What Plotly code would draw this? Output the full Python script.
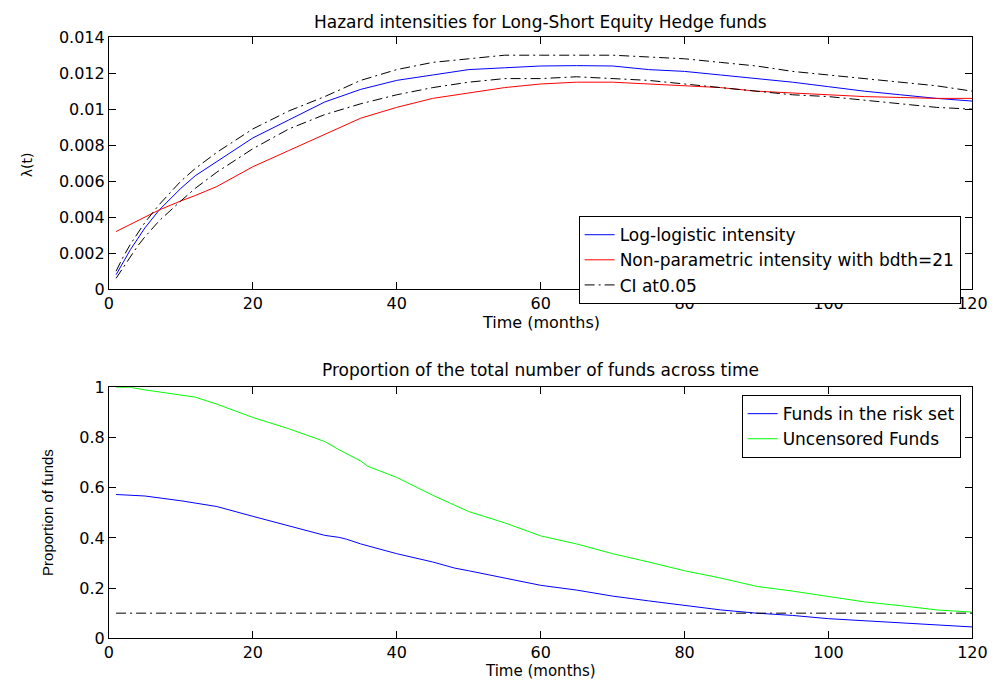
import plotly.graph_objects as go

# ---- data ----
months_top = [1, 2, 3, 4, 5, 7, 10, 12, 15, 20, 25, 30, 35, 40, 45, 50, 55, 60,
              65, 70, 75, 80, 85, 90, 95, 100, 105, 110, 115, 120]
loglogistic = [0.0008, 0.0015, 0.0022, 0.0028, 0.0034, 0.0044, 0.0056, 0.0063, 0.0071,
               0.0084, 0.0094, 0.0104, 0.0111, 0.0116, 0.0119, 0.0122, 0.0123, 0.0124,
               0.01242, 0.0124, 0.0122, 0.0121, 0.0119, 0.0117, 0.0115, 0.01125, 0.0110,
               0.0108, 0.0106, 0.01045]
nonparam = [0.0032, 0.0034, 0.0036, 0.0038, 0.0040, 0.0044, 0.0049, 0.0052, 0.0057,
            0.0068, 0.0077, 0.0086, 0.0095, 0.0101, 0.0106, 0.0109, 0.0112, 0.0114,
            0.0115, 0.0115, 0.0114, 0.0113, 0.0112, 0.0110, 0.0109, 0.0108, 0.0107,
            0.01065, 0.0106, 0.0106]
ci_upper = [0.0010, 0.0018, 0.0025, 0.0031, 0.0037, 0.0047, 0.0060, 0.0067, 0.0076,
            0.0089, 0.0099, 0.0107, 0.0116, 0.0122, 0.0126, 0.0128, 0.0130, 0.0130,
            0.0130, 0.0130, 0.0129, 0.0128, 0.0126, 0.0124, 0.0121, 0.0119, 0.0117,
            0.0115, 0.0113, 0.0110]
ci_lower = [0.0006, 0.0012, 0.0018, 0.0024, 0.0029, 0.0038, 0.0049, 0.0056, 0.0065,
            0.0078, 0.0089, 0.0097, 0.0103, 0.0108, 0.0112, 0.0115, 0.0117, 0.0117,
            0.0118, 0.0117, 0.0116, 0.0114, 0.0112, 0.0110, 0.0108, 0.0107, 0.0105,
            0.0103, 0.0101, 0.0100]

months_bot = [1, 3, 5, 10, 12, 15, 20, 25, 30, 32, 33, 35, 36, 40, 45, 48, 50, 55, 60,
              65, 70, 75, 80, 85, 90, 95, 100, 105, 110, 115, 120]
uncensored = [1.0, 1.0, 0.99, 0.971, 0.961, 0.933, 0.88, 0.835, 0.784, 0.751, 0.736,
              0.706, 0.685, 0.641, 0.57, 0.531, 0.505, 0.46, 0.408, 0.376, 0.337, 0.304,
              0.269, 0.24, 0.207, 0.188, 0.168, 0.145, 0.13, 0.113, 0.104]
risk_set = [0.573, 0.57, 0.567, 0.548, 0.54, 0.525, 0.486, 0.447, 0.41, 0.402, 0.395,
            0.376, 0.368, 0.337, 0.304, 0.28, 0.269, 0.24, 0.211, 0.192, 0.168, 0.149,
            0.13, 0.113, 0.1, 0.091, 0.078, 0.07, 0.061, 0.054, 0.045]
threshold_x = [1, 120]
threshold_y = [0.1, 0.1]

FONT = "DejaVu Sans"
DASHDOT = "10px,4px,2px,4px"

fig = go.Figure()
fig.add_trace(go.Scatter(x=months_top, y=loglogistic, mode="lines", name="Log-logistic intensity",
                         line=dict(color="#0000ff", width=1), xaxis="x", yaxis="y", legend="legend"))
fig.add_trace(go.Scatter(x=months_top, y=nonparam, mode="lines",
                         name="Non-parametric intensity with bdth=21",
                         line=dict(color="#ff0000", width=1), xaxis="x", yaxis="y", legend="legend"))
fig.add_trace(go.Scatter(x=months_top, y=ci_upper, mode="lines", name="CI at0.05",
                         line=dict(color="black", width=1, dash=DASHDOT), xaxis="x", yaxis="y",
                         legend="legend"))
fig.add_trace(go.Scatter(x=months_top, y=ci_lower, mode="lines", name="CI at0.05", showlegend=False,
                         line=dict(color="black", width=1, dash=DASHDOT), xaxis="x", yaxis="y"))

fig.add_trace(go.Scatter(x=months_bot, y=risk_set, mode="lines", name="Funds in the risk set",
                         line=dict(color="#0000ff", width=1), xaxis="x2", yaxis="y2", legend="legend2"))
fig.add_trace(go.Scatter(x=months_bot, y=uncensored, mode="lines", name="Uncensored Funds",
                         line=dict(color="#00ff00", width=1), xaxis="x2", yaxis="y2", legend="legend2"))
fig.add_trace(go.Scatter(x=threshold_x, y=threshold_y, mode="lines", showlegend=False,
                         line=dict(color="black", width=1, dash=DASHDOT), xaxis="x2", yaxis="y2"))

W, H = 1007, 693
xdom = [106 / W, 987 / W]
ax = dict(showline=True, linecolor="black", linewidth=1, mirror="ticks", ticks="inside",
          ticklen=7, tickcolor="black", showgrid=False, zeroline=False,
          tickfont=dict(family=FONT, size=16, color="black"))

ytop = [i * 0.002 for i in range(8)]
fig.update_layout(
    width=W, height=H, margin=dict(l=0, r=0, t=0, b=0),
    paper_bgcolor="white", plot_bgcolor="white",
    font=dict(family=FONT, color="black"),
    xaxis=dict(ax, domain=xdom, range=[0, 120], tickvals=list(range(0, 121, 20)), anchor="y"),
    yaxis=dict(ax, domain=[1 - 288 / H, 1 - 29 / H], range=[0, 0.014], tickvals=ytop,
               ticktext=["0", "0.002", "0.004", "0.006", "0.008", "0.01", "0.012", "0.014"],
               anchor="x"),
    xaxis2=dict(ax, domain=xdom, range=[0, 120], tickvals=list(range(0, 121, 20)), anchor="y2"),
    yaxis2=dict(ax, domain=[1 - 647 / H, 1 - 389 / H], range=[0, 1],
                tickvals=[0, 0.2, 0.4, 0.6, 0.8, 1], ticktext=["0", "0.2", "0.4", "0.6", "0.8", "1"],
                anchor="x2"),
    legend=dict(x=975 / W, y=1 - 213 / H, xanchor="right", yanchor="top", bgcolor="white",
                bordercolor="black", borderwidth=1, font=dict(family=FONT, size=17),
                tracegroupgap=0),
    legend2=dict(x=975 / W, y=1 - 397 / H, xanchor="right", yanchor="top", bgcolor="white",
                 bordercolor="black", borderwidth=1, font=dict(family=FONT, size=17),
                 tracegroupgap=0),
)

ann = [
    ("Hazard intensities for Long-Short Equity Hedge funds", 546.5, 13, 17, 0, FONT),
    ("Time (months)", 546.5, 322, 16, 0, FONT),
    ("Proportion of the total number of funds across time", 546.5, 371, 17, 0, FONT),
    ("Time (months)", 546.5, 681, 15, 0, FONT),
    ("λ(t)", 22, 160, 14, -90, FONT),
    ("Proportion of funds", 44, 518, 15, -90, "Liberation Sans Narrow, Liberation Sans"),
]
for text, px, py, size, ang, fam in ann:
    fig.add_annotation(text=text, x=px / W, y=1 - py / H, xref="paper", yref="paper",
                       showarrow=False, textangle=ang, xanchor="center", yanchor="middle",
                       font=dict(family=fam, size=size, color="black"))

# drop the default page margin so the 1007x693 figure fills the window exactly
fig.write_html("out.html", config={"displayModeBar": False},
               post_script="document.body.style.margin='0';")
